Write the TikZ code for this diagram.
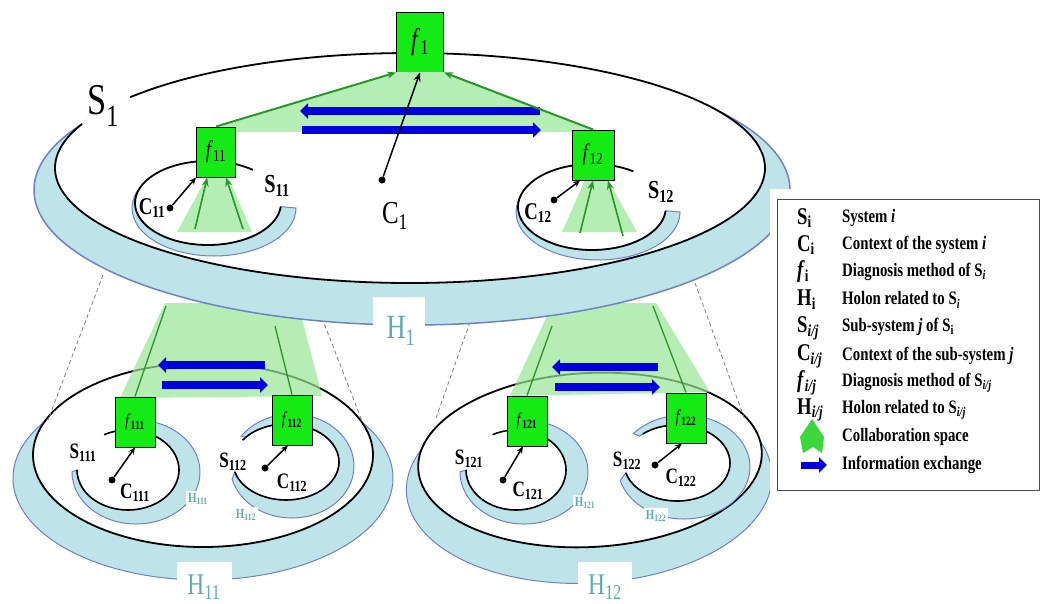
\documentclass[tikz,border=0pt]{standalone}
\usepackage{fontspec}
\setmainfont{Liberation Serif}[FakeStretch=0.78]
\usetikzlibrary{arrows.meta,calc}
\definecolor{bandc}{RGB}{190,228,233}
\definecolor{bandshadow}{RGB}{110,130,200}
\definecolor{boxg}{RGB}{20,235,20}
\definecolor{collab}{RGB}{150,230,150}
\definecolor{collabsolid}{RGB}{180,238,180}
\definecolor{dgreen}{RGB}{40,150,40}
\definecolor{infob}{RGB}{0,0,220}
\definecolor{tealt}{RGB}{95,170,180}
\definecolor{legG}{RGB}{60,215,60}
\newcommand\sbs[1]{\textsubscript{#1}}
\tikzset{
  sysline/.style={draw=black,line width=1.8pt},
  subline/.style={draw=black,line width=1.6pt},
  bandst/.style={fill=bandc,draw=bandshadow,line width=1pt},
  fbox/.style={draw=black,fill=boxg,line width=1pt,inner sep=0pt,minimum width=40pt,minimum height=50pt},
  lbl/.style={inner sep=0pt,font=\fontsize{#1}{#1}\selectfont},
  blbl/.style={inner sep=0pt,font=\fontsize{#1}{#1}\selectfont\bfseries},
  hl/.style={inner sep=0pt,text=tealt,font=\fontsize{#1}{#1}\selectfont},
  hsm/.style={fill=white,inner sep=2pt,text=tealt,font=\fontsize{14}{14}\selectfont\bfseries},
  dot/.style={circle,fill=black,inner sep=0pt,minimum size=7pt},
  carrow/.style={draw=black,line width=1.5pt,-{Stealth[length=7pt,width=6pt]}},
  garrow/.style={draw=dgreen,line width=2pt,-{Stealth[length=9pt,width=7pt]}},
  gline/.style={draw=dgreen,line width=1.3pt},
  infoarrow/.style={draw=infob,line width=8pt,-{Triangle[length=8pt,width=15pt]}},
  dashln/.style={draw=gray,line width=0.8pt,dash pattern=on 4pt off 3pt},
  legsym/.style={anchor=west,inner sep=0pt,font=\fontsize{24}{24}\selectfont\bfseries},
  legtxt/.style={anchor=west,inner sep=0pt,font=\fontsize{19}{19}\selectfont\bfseries},
}
\begin{document}
\begin{tikzpicture}[x=1pt,y=1pt,yscale=-1]
\useasboundingbox (0,0) rectangle (1042,603);
\fill[white] (0,0) rectangle (1042,603);

%%%%%%%%%%%%%%%% Group H11 %%%%%%%%%%%%%%%%
\draw[bandst] (203,478) ellipse [x radius=190, y radius=102];
\fill[white] (177,562) rectangle (232,603);
\node[hl=30] (h11) at (204,587) {H\sbs{11}};
\draw[sysline,fill=white] (203,455) ellipse [x radius=170, y radius=92];
% S111
\draw[bandst] ($(136,472)+(-75:64 and 52)$) arc[start angle=-75,end angle=180,x radius=64,y radius=52]
  -- ($(128,470)+(180:51 and 40)$) arc[start angle=180,end angle=-65,x radius=51,y radius=40] -- cycle;
\draw[subline] ($(128,470)+(-118:51 and 40)$) arc[start angle=-118,end angle=180,x radius=51,y radius=40];
% S112
\draw[bandst] ($(292,466)+(-145:62 and 52)$) arc[start angle=-145,end angle=165,x radius=62,y radius=52]
  -- ($(286,462)+(165:53 and 38)$) arc[start angle=165,end angle=-140,x radius=53,y radius=38] -- cycle;
\draw[subline] ($(286,462)+(-145:53 and 38)$) arc[start angle=-145,end angle=165,x radius=53,y radius=38];
\node[hsm] (h111) at (198,499) {H\sbs{111}};
\node[hsm] (h112) at (246,515) {H\sbs{112}};
\node[blbl=22] (s111) at (83,453) {S\sbs{111}};
\node[blbl=22] (s112) at (233,462) {S\sbs{112}};
\node[dot] (d111) at (112,480) {};
\node[dot] (d112) at (265,468) {};
\node[blbl=22] (c111) at (135,493) {C\sbs{111}};
\node[blbl=22] (c112) at (292,483) {C\sbs{112}};
% collaboration + exchange
\fill[collab,opacity=0.7] (165,303) -- (298,303) -- (322,396) -- (120,398) -- cycle;
\coordinate (a11a) at (265,365); \coordinate (a11b) at (158,365);
\coordinate (a11c) at (162,385); \coordinate (a11d) at (268,385);
\draw[infoarrow] (a11a) -- (a11b);
\draw[infoarrow] (a11c) -- (a11d);
\node[fbox,font=\fontsize{18}{18}\selectfont] (f111) at (135,422) {\textit{f}\sbs{\bfseries 111}};
\node[fbox,font=\fontsize{18}{18}\selectfont] (f112) at (292,420) {\textit{f}\sbs{\bfseries 112}};
\coordinate (g11a) at (166,306); \coordinate (g11b) at (275,326);
\draw[gline] (g11a) -- (f111.north);
\draw[gline] (g11b) -- (f112.north);
\draw[carrow] (d111) -- (f111.south);
\draw[carrow] (d112) -- ($(f112.south west)!0.4!(f112.south east)$);

%%%%%%%%%%%%%%%% Group H12 %%%%%%%%%%%%%%%%
\begin{scope}[rotate around={-3:(590,460)}]
\draw[bandst] (588,483) ellipse [x radius=183, y radius=100];
\end{scope}
\fill[white] (578,562) rectangle (632,603);
\node[hl=30] (h12) at (605,587) {H\sbs{12}};
\begin{scope}[rotate around={-3:(590,460)}]
\draw[sysline,fill=white] (590,460) ellipse [x radius=172, y radius=87];
\end{scope}
% S121
\draw[bandst] ($(524,472)+(-75:64 and 52)$) arc[start angle=-75,end angle=180,x radius=64,y radius=52]
  -- ($(516,470)+(180:50 and 40)$) arc[start angle=180,end angle=-65,x radius=50,y radius=40] -- cycle;
\draw[subline] ($(516,470)+(-118:50 and 40)$) arc[start angle=-118,end angle=180,x radius=50,y radius=40];
% S122
\draw[bandst] ($(684,467)+(-140:66 and 52)$) arc[start angle=-140,end angle=165,x radius=66,y radius=52]
  -- ($(677,463)+(165:53 and 38)$) arc[start angle=165,end angle=-135,x radius=53,y radius=38] -- cycle;
\draw[subline] ($(677,463)+(-130:53 and 38)$) arc[start angle=-130,end angle=165,x radius=53,y radius=38];
\node[hsm] (h121) at (585,503) {H\sbs{121}};
\node[hsm] (h122) at (656,516) {H\sbs{122}};
\node[blbl=22] (s121) at (469,459) {S\sbs{121}};
\node[blbl=22] (s122) at (627,461) {S\sbs{122}};
\node[dot] (d121) at (503,480) {};
\node[dot] (d122) at (655,465) {};
\node[blbl=22] (c121) at (528,491) {C\sbs{121}};
\node[blbl=22] (c122) at (681,478) {C\sbs{122}};
\fill[collab,opacity=0.7] (553,303) -- (656,303) -- (710,392) -- (510,396) -- cycle;
\coordinate (a12a) at (658,367); \coordinate (a12b) at (552,367);
\coordinate (a12c) at (555,387); \coordinate (a12d) at (660,387);
\draw[infoarrow] (a12a) -- (a12b);
\draw[infoarrow] (a12c) -- (a12d);
\node[fbox,font=\fontsize{18}{18}\selectfont] (f121) at (527,421) {\textit{f}\sbs{\bfseries 121}};
\node[fbox,font=\fontsize{18}{18}\selectfont] (f122) at (686,418) {\textit{f}\sbs{\bfseries 122}};
\coordinate (g12a) at (552,326); \coordinate (g12b) at (653,306);
\draw[gline] (g12a) -- (f121.north);
\draw[gline] (g12b) -- (f122.north);
\draw[carrow] (d121) -- ($(f121.south west)!0.4!(f121.south east)$);
\draw[carrow] (d122) -- ($(f122.south west)!0.4!(f122.south east)$);

%%%%%%%%%%%%%%%% dashed perspective lines %%%%%%%%%%%%%%%%
\coordinate (dl1a) at (103,275); \coordinate (dl1b) at (48,420);
\coordinate (dl2a) at (322,318); \coordinate (dl2b) at (362,421);
\coordinate (dl3a) at (470,322); \coordinate (dl3b) at (436,418);
\coordinate (dl4a) at (695,283); \coordinate (dl4b) at (745,420);
\draw[dashln] (dl1a) -- (dl1b);
\draw[dashln] (dl2a) -- (dl2b);
\draw[dashln] (dl3a) -- (dl3b);
\draw[dashln] (dl4a) -- (dl4b);

%%%%%%%%%%%%%%%% Top system S1 %%%%%%%%%%%%%%%%
\draw[bandst,line width=1.5pt] (412,190) ellipse [x radius=378, y radius=135];
\fill[white] (373,297) rectangle (425,352);
\node[hl=34] (h1) at (401,331) {H\sbs{1}};
\fill[white] (410,168) ellipse [x radius=355, y radius=115];
\draw[sysline] ($(410,168)+(-142:355 and 115)$) arc[start angle=-142,end angle=202.5,x radius=355,y radius=115];
\node[lbl=44] (s1) at (103,106) {S\sbs{1}};

\node[fbox,minimum width=47pt,minimum height=60pt,font=\fontsize{30}{30}\selectfont] (f1) at (420,42) {\textit{f}\sbs{1}};
\coordinate (f11pos) at (216,152);
\coordinate (f12pos) at (593,155);
% top collaboration space
\fill[collabsolid] (216,127) -- (397,72) -- (444,72) -- (596,130) -- (580,132) -- (236,132) -- cycle;

% S11
\draw[bandst] ($(214,208)+(0:82 and 48)$) arc[start angle=0,end angle=200,x radius=82,y radius=48]
  -- ($(208,203)+(200:73 and 42)$) arc[start angle=200,end angle=5,x radius=73,y radius=42] -- cycle;
\draw[sysline] ($(208,203)+(-52:73 and 42)$) arc[start angle=-52,end angle=-355,x radius=73,y radius=42];
% S12
\draw[bandst] ($(598,212)+(0:82 and 48)$) arc[start angle=0,end angle=200,x radius=82,y radius=48]
  -- ($(592,207)+(200:74 and 43)$) arc[start angle=200,end angle=5,x radius=74,y radius=43] -- cycle;
\draw[sysline] ($(592,207)+(-56:74 and 43)$) arc[start angle=-56,end angle=-355,x radius=74,y radius=43];

% collaboration spaces under f11 / f12
\fill[collabsolid] (207,177) -- (228,177) -- (252,232) -- (177,232) -- cycle;
\fill[collabsolid] (585,180) -- (608,180) -- (637,232) -- (562,232) -- cycle;

% information exchange S11 <-> S12
\coordinate (a1a) at (540,111); \coordinate (a1b) at (300,111);
\coordinate (a1c) at (302,130); \coordinate (a1d) at (541,130);
\draw[infoarrow] (a1a) -- (a1b);
\draw[infoarrow] (a1c) -- (a1d);

\node[fbox,minimum width=39pt,font=\fontsize{24}{24}\selectfont] (f11) at (f11pos) {\textit{f}\sbs{11}};
\node[fbox,minimum width=42pt,font=\fontsize{24}{24}\selectfont] (f12) at (f12pos) {\textit{f}\sbs{12}};

\draw[garrow] (f11.north) -- (f1.south west);
\draw[garrow] (f12.north) -- (f1.south east);
\coordinate (t11a) at (195,229); \coordinate (t11b) at (243,229);
\coordinate (t12a) at (580,233); \coordinate (t12b) at (623,236);
\draw[garrow,line width=1.6pt] (t11a) -- ($(f11.south west)!0.28!(f11.south east)$);
\draw[garrow,line width=1.6pt] (t11b) -- ($(f11.south west)!0.75!(f11.south east)$);
\draw[garrow,line width=1.6pt] (t12a) -- ($(f12.south west)!0.5!(f12.south east)$);
\draw[garrow,line width=1.6pt] (t12b) -- ($(f12.south west)!0.85!(f12.south east)$);

% contexts
\node[dot] (d1) at (382,180) {};
\node[dot] (d11) at (170,208) {};
\node[dot] (d12) at (554,200) {};
\draw[carrow,-{Stealth[length=9pt,width=7pt,fill=dgreen]}] (d1) -- (f1.south);
\draw[carrow] (d11) -- (f11.south west);
\draw[carrow] (d12) -- ($(f12.south west)!0.2!(f12.south east)$);
\node[lbl=32] (c1) at (395,216) {C\sbs{1}};
\node[blbl=24] (c11) at (152,208) {C\sbs{11}};
\node[blbl=24] (c12) at (538,213) {C\sbs{12}};
\node[blbl=26] (s11) at (277,186) {S\sbs{11}};
\node[blbl=26] (s12) at (661,192) {S\sbs{12}};

%%%%%%%%%%%%%%%% Legend %%%%%%%%%%%%%%%%
\fill[white] (770,189) rectangle (1042,497);
\node[draw=black!70,line width=1.3pt,fill=white,anchor=north west,minimum width=262pt,minimum height=291pt,inner sep=0pt] (legend) at (777,199) {};
\node[legsym] (ls1) at (797,218) {S\sbs{i}};
\node[legtxt] (lt1) at (842,218) {System \textit{i}};
\node[legsym] (ls2) at (797,245) {C\sbs{i}};
\node[legtxt] (lt2) at (842,245) {Context of the system \textit{i}};
\node[legsym] (ls3) at (797,272) {\textit{f}\sbs{i}};
\node[legtxt] (lt3) at (842,272) {Diagnosis method of S\sbs{\textit{i}}};
\node[legsym] (ls4) at (797,300) {H\sbs{i}};
\node[legtxt] (lt4) at (842,300) {Holon related to S\sbs{\textit{i}}};
\node[legsym] (ls5) at (797,328) {S\sbs{\textit{i/j}}};
\node[legtxt] (lt5) at (842,327) {Sub-system \textit{j} of S\sbs{i}};
\node[legsym] (ls6) at (797,356) {C\sbs{\textit{i/j}}};
\node[legtxt] (lt6) at (842,356) {Context of the sub-system \textit{j}};
\node[legsym] (ls7) at (797,383) {\textit{f}\sbs{\textit{i/j}}};
\node[legtxt] (lt7) at (842,383) {Diagnosis method of S\sbs{\textit{i/j}}};
\node[legsym] (ls8) at (797,410) {H\sbs{\textit{i/j}}};
\node[legtxt] (lt8) at (842,410) {Holon related to S\sbs{\textit{i/j}}};
\fill[legG] (812,419) -- (824,437) -- (822,453) -- (813,447) -- (803,453) -- (800,437) -- cycle;
\node[legtxt] (lt9) at (842,437) {Collaboration space};
\coordinate (li1) at (801,465); \coordinate (li2) at (827,465);
\draw[infoarrow,line width=7pt] (li1) -- (li2);
\node[legtxt] (lt10) at (842,465) {Information exchange};
\end{tikzpicture}
\end{document}
